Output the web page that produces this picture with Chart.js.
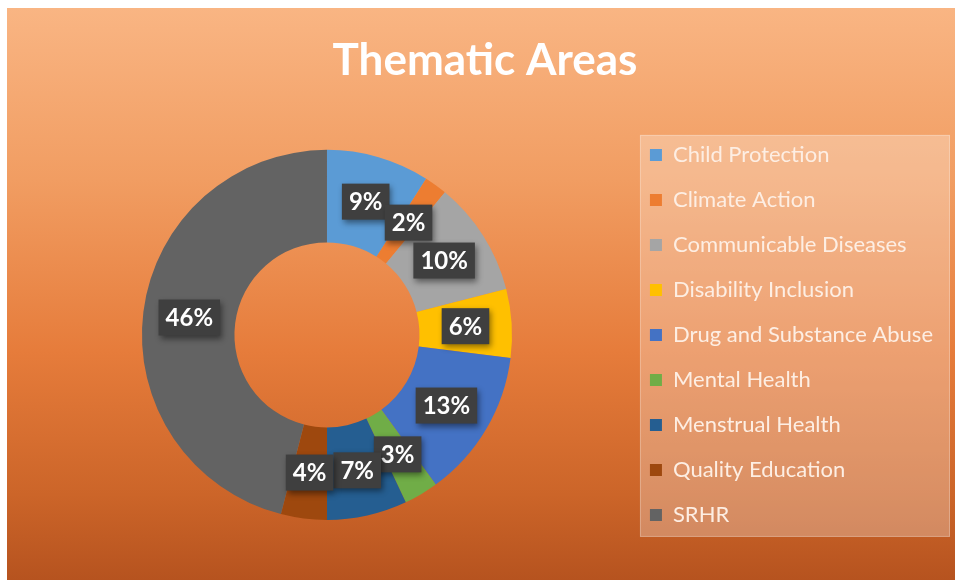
<!DOCTYPE html>
<html>
<head>
<meta charset="utf-8">
<title>Thematic Areas</title>
<script src="https://cdn.jsdelivr.net/npm/chart.js@4.4.1/dist/chart.umd.min.js"></script>
<style>
  html, body { margin: 0; padding: 0; background: #ffffff; }
  #wrap { position: absolute; left: 0; top: 0; width: 955px; height: 580px; }
</style>
</head>
<body>
<div id="wrap"><canvas id="chart" width="955" height="580"></canvas></div>
<script>
const categories = ['Child Protection', 'Climate Action', 'Communicable Diseases', 'Disability Inclusion',
  'Drug and Substance Abuse', 'Mental Health', 'Menstrual Health', 'Quality Education', 'SRHR'];
const shares = [9, 2, 10, 6, 13, 3, 7, 4, 46];
const sliceColors = ['#5b9bd5', '#ed7d31', '#a5a5a5', '#ffc000', '#4472c4', '#70ad47', '#255e91', '#9e480e', '#636363'];

// orange gradient panel + translucent box behind the legend
const panelBackground = {
  id: 'panelBackground',
  beforeDraw(chart) {
    const ctx = chart.ctx;
    const g = ctx.createLinearGradient(0, 8, 0, 580);
    g.addColorStop(0, '#f9b583');
    g.addColorStop(0.3, '#f19d62');
    g.addColorStop(0.6, '#e67c3b');
    g.addColorStop(0.85, '#cc6529');
    g.addColorStop(1, '#b6531f');
    ctx.save();
    ctx.fillStyle = g;
    ctx.fillRect(7, 8, chart.width - 7, chart.height - 8);
    const lg = chart.legend;
    const boxes = lg.legendHitBoxes;
    if (boxes && boxes.length) {
      const first = boxes[0], last = boxes[boxes.length - 1];
      ctx.fillStyle = 'rgba(255,255,255,0.28)';
      ctx.strokeStyle = 'rgba(255,255,255,0.25)';
      ctx.lineWidth = 1;
      const x = lg.left + 13, y = first.top - 9;
      const w = chart.width - 5 - x, h = last.top + last.height + 11 - y;
      ctx.fillRect(x, y, w, h);
      ctx.strokeRect(x + 0.5, y + 0.5, w - 1, h - 1);
    }
    ctx.restore();
  }
};

// dark boxed percentage labels on each slice
const sliceLabels = {
  id: 'sliceLabels',
  afterDatasetsDraw(chart) {
    const ctx = chart.ctx;
    const meta = chart.getDatasetMeta(0);
    ctx.save();
    ctx.font = 'bold 24px Lato';
    ctx.textAlign = 'center';
    ctx.textBaseline = 'middle';
    meta.data.forEach((arc, i) => {
      const pos = arc.tooltipPosition();
      const txt = shares[i] + '%';
      const w = ctx.measureText(txt).width + 14;
      const h = 36;
      ctx.shadowColor = 'rgba(0,0,0,0.45)';
      ctx.shadowBlur = 6;
      ctx.shadowOffsetX = 2;
      ctx.shadowOffsetY = 3;
      ctx.fillStyle = '#3f3f3f';
      ctx.fillRect(pos.x - w / 2, pos.y - h / 2, w, h);
      ctx.shadowColor = 'transparent';
      ctx.fillStyle = '#ffffff';
      ctx.fillText(txt, pos.x, pos.y + 1);
    });
    ctx.restore();
  }
};

const chartCanvas = document.getElementById('chart').getContext('2d');

new Chart(chartCanvas, {
  type: 'doughnut',
  data: {
    labels: categories,
    datasets: [{
      data: shares,
      backgroundColor: sliceColors,
      borderWidth: 0
    }]
  },
  options: {
    responsive: false,
    animation: false,
    events: [],
    cutout: '50%',
    radius: '82.2%',
    layout: { padding: { left: 27, right: 12, top: 0, bottom: 20 } },
    plugins: {
      title: {
        display: true,
        text: 'Thematic Areas',
        color: '#ffffff',
        font: { family: 'Lato', size: 44, weight: 'bold' },
        padding: { top: 34, bottom: 23 }
      },
      legend: {
        position: 'right',
        fullSize: false,
        labels: {
          color: '#fdeee3',
          font: { family: 'Lato', size: 22 },
          boxWidth: 12,
          boxHeight: 12,
          padding: 23
        }
      },
      tooltip: { enabled: false }
    }
  },
  plugins: [panelBackground, sliceLabels]
});
</script>
</body>
</html>
